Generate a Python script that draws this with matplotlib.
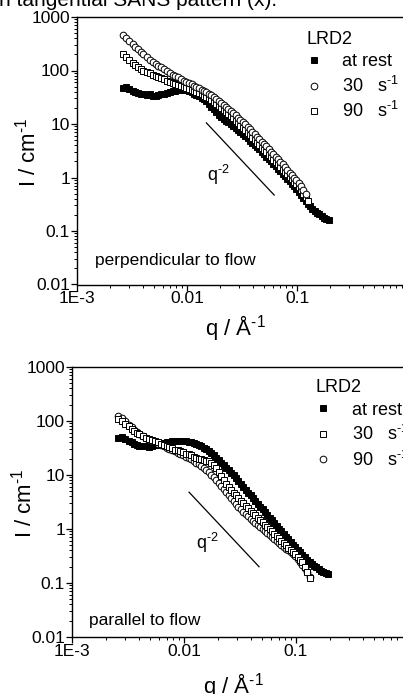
"""SANS intensity I(q) of LRD2 at rest and under shear,
perpendicular (top) and parallel (bottom) to flow."""

import matplotlib
matplotlib.use("Agg")
import matplotlib.pyplot as plt
from matplotlib.ticker import FixedLocator, FixedFormatter, LogLocator, NullFormatter

plt.rcParams['font.family'] = ['Liberation Sans', 'DejaVu Sans']
plt.rcParams['mathtext.fontset'] = 'custom'
plt.rcParams['mathtext.rm'] = 'Liberation Sans'
plt.rcParams['mathtext.it'] = 'Liberation Sans:italic'

# common q grid (1/A)
q = [0.0026, 0.0028, 0.0030, 0.0032, 0.0034, 0.0036, 0.0038, 0.0040,
     0.0043, 0.0046, 0.0049, 0.0052, 0.0055, 0.0058, 0.0062, 0.0066, 0.0070, 0.0074,
     0.0078, 0.0083, 0.0088, 0.0093, 0.0098, 0.0104, 0.0110, 0.0116, 0.0122, 0.0129,
     0.0136, 0.0143, 0.0150, 0.0158, 0.0166, 0.0175, 0.0184, 0.0194, 0.0204, 0.0215,
     0.0226, 0.0238, 0.0250, 0.0263, 0.0277, 0.0291, 0.0306, 0.0322, 0.0339, 0.0356,
     0.0374, 0.0393, 0.0413, 0.0434, 0.0456, 0.0479, 0.0503, 0.0528, 0.0554, 0.0582,
     0.0611, 0.0641, 0.0673, 0.0706, 0.0741, 0.0778, 0.0816, 0.0856, 0.0898, 0.0942,
     0.0988, 0.104, 0.109, 0.114, 0.120, 0.126, 0.132, 0.138, 0.145, 0.152,
     0.160, 0.168, 0.176, 0.185, 0.194]

# perpendicular to flow
perp_rest = [48, 50, 46, 42, 40, 38, 37, 36,
             35, 36, 34, 33, 35, 36, 37, 38, 40, 41,
             42, 43, 44, 44, 43, 41, 39, 37, 35, 33,
             31, 29, 27, 24, 21, 19, 17, 15, 13.5, 12.3,
             11.5, 10.7, 9.9, 9.1, 8.4, 7.8, 7.2, 6.6, 6.0, 5.4,
             4.9, 4.5, 4.1, 3.7, 3.35, 3.0, 2.7, 2.45, 2.2, 2.0,
             1.8, 1.62, 1.46, 1.32, 1.18, 1.06, 0.95, 0.85, 0.76, 0.68,
             0.61, 0.54, 0.47, 0.41, 0.36, 0.32, 0.29, 0.26, 0.24, 0.22,
             0.205, 0.19, 0.178, 0.168, 0.158]
perp_30 = [460, 400, 350, 310, 275, 250, 225, 205,
           180, 160, 145, 132, 122, 114, 105, 97, 90, 84,
           79, 74, 69, 65, 62, 58, 55, 52, 49, 47,
           44, 41, 39, 37, 35, 32, 29, 27, 25, 23,
           21, 19, 17.5, 16, 14.5, 13.2, 12, 10.8, 9.8, 8.8,
           8.0, 7.2, 6.5, 5.8, 5.2, 4.7, 4.2, 3.8, 3.4, 3.05,
           2.75, 2.45, 2.2, 1.95, 1.75, 1.55, 1.38, 1.24, 1.10, 0.98,
           0.88, 0.78, 0.68, 0.58, 0.50]
perp_90 = [205, 175, 155, 138, 125, 114, 106, 100,
           94, 88, 84, 80, 76, 72, 68, 65, 62, 59,
           57, 54, 52, 50, 48, 46, 44, 42, 40, 38,
           36, 34, 32, 30, 28, 26, 24, 22, 20, 18.5,
           17, 15.5, 14, 12.7, 11.5, 10.3, 9.3, 8.4, 7.6, 6.8,
           6.1, 5.5, 5.0, 4.5, 4.0, 3.6, 3.25, 2.95, 2.65, 2.4,
           2.15, 1.95, 1.75, 1.57, 1.41, 1.27, 1.14, 1.02, 0.92, 0.83,
           0.75, 0.67, 0.58, 0.50, 0.43, 0.37]

# parallel to flow
par_rest = [48, 50, 46, 43, 40, 37, 36, 35,
            34, 35, 33, 34, 36, 36, 37, 39, 40, 41,
            42, 42, 43, 43, 43, 42, 41, 40, 39, 37,
            36, 34, 32, 30, 28, 25.5, 23, 21, 19, 17,
            15.3, 13.7, 12.3, 11, 9.8, 8.7, 7.7, 6.8, 6.0, 5.3,
            4.7, 4.2, 3.7, 3.3, 2.9, 2.6, 2.3, 2.05, 1.82, 1.62,
            1.44, 1.28, 1.14, 1.02, 0.91, 0.81, 0.72, 0.64, 0.57, 0.51,
            0.46, 0.41, 0.37, 0.33, 0.30, 0.27, 0.245, 0.225, 0.21, 0.195,
            0.18, 0.17, 0.16, 0.152, 0.145]
par_30 = [108, 100, 88, 80, 72, 66, 61, 57,
          53, 49, 46, 44, 42, 40, 38, 36, 34, 32.5,
          31, 29.5, 28.5, 27.5, 26.5, 25, 24, 23, 22, 21,
          20, 19.5, 19, 18.5, 18, 17, 15.5, 13.5, 11.5, 9.5,
          8.0, 6.8, 6.0, 5.3, 4.7, 4.2, 3.7, 3.3, 3.0, 2.7,
          2.45, 2.2, 2.0, 1.8, 1.62, 1.46, 1.32, 1.2, 1.09, 0.99,
          0.90, 0.82, 0.74, 0.67, 0.61, 0.55, 0.50, 0.45, 0.41, 0.37,
          0.34, 0.30, 0.27, 0.24, 0.20, 0.16, 0.125]
par_90 = [124, 112, 98, 86, 76, 68, 62, 57,
          52, 48, 45, 42, 40, 38, 36, 34, 32, 30.5,
          29, 27.5, 26, 24.5, 23.5, 22, 21, 19.5, 18.5, 17,
          16, 14.5, 13.5, 12.5, 11.5, 10, 9, 8, 7, 6.2,
          5.5, 4.8, 4.2, 3.7, 3.3, 2.9, 2.6, 2.35, 2.1, 1.9,
          1.72, 1.56, 1.42, 1.29, 1.18, 1.08, 0.99, 0.90, 0.83, 0.76,
          0.70, 0.64, 0.59, 0.54, 0.50, 0.46, 0.43, 0.40, 0.37, 0.34,
          0.31, 0.28, 0.25, 0.22, 0.19, 0.16, 0.13]

# q^-2 guide lines (q, I at both ends)
perp_guide_q = [0.015, 0.062]
perp_guide_I = [10.5, 0.47]
par_guide_q = [0.0111, 0.0468]
par_guide_I = [4.8, 0.20]

y_ticks = [0.01, 0.1, 1, 10, 100, 1000]
y_labels = ['0.01', '0.1', '1', '10', '100', '1000']
x_ticks = [1e-3, 0.01, 0.1]
x_labels = ['1E-3', '0.01', '0.1']

sup = r'$^{\text{-1}}$'

fig = plt.figure(figsize=(4.03, 6.94), dpi=100)

ax1 = fig.add_axes([77 / 403, 1 - 284.5 / 694, 330 / 403, 267.5 / 694])
ax2 = fig.add_axes([72 / 403, 1 - 637 / 694, 336 / 403, 270 / 694])

ms = 4.8
mew = 0.7


def style_axis(ax):
    ax.set_xscale('log')
    ax.set_yscale('log')
    ax.set_xlim(1e-3, 1)
    ax.set_ylim(0.01, 1000)
    ax.yaxis.set_major_locator(FixedLocator(y_ticks))
    ax.yaxis.set_major_formatter(FixedFormatter(y_labels))
    ax.xaxis.set_major_locator(FixedLocator(x_ticks))
    ax.xaxis.set_major_formatter(FixedFormatter(x_labels))
    ax.yaxis.set_minor_locator(LogLocator(base=10, subs=range(2, 10)))
    ax.xaxis.set_minor_locator(LogLocator(base=10, subs=range(2, 10)))
    ax.yaxis.set_minor_formatter(NullFormatter())
    ax.xaxis.set_minor_formatter(NullFormatter())
    ax.tick_params(which='major', direction='out', length=4, width=0.9,
                   labelsize=12.5, pad=1)
    ax.tick_params(which='minor', direction='out', length=2, width=0.7)
    for s in ax.spines.values():
        s.set_linewidth(1.0)


def series(ax, vals, marker, filled, label):
    qq = q[:len(vals)]
    fc = 'black' if filled else 'white'
    h, = ax.plot(qq, vals, ls='none', marker=marker, ms=ms, mfc=fc,
                 mec='black', mew=mew, label=label)
    return h


# top panel: perpendicular to flow
style_axis(ax1)
h1 = series(ax1, perp_rest, 's', True, 'at rest')
h3 = series(ax1, perp_90, 's', False, '90   s' + sup)
h2 = series(ax1, perp_30, 'o', False, '30   s' + sup)
ax1.plot(perp_guide_q, perp_guide_I, color='black', lw=0.9)
ax1.text(0.0192, 1.1, 'q' + r'$^{\text{-2}}$', fontsize=13,
         ha='center', va='center')
ax1.text(0.00146, 0.0275, 'perpendicular to flow', fontsize=12.5,
         va='center', ha='left')
ax1.legend(handles=[h1, h2, h3], title='LRD2', alignment='left',
           loc='upper left', bbox_to_anchor=(0.695, 0.948), frameon=False,
           fontsize=13, title_fontsize=13, handlelength=0.8,
           handletextpad=1.2, labelspacing=0.3, borderpad=0,
           borderaxespad=0)

# bottom panel: parallel to flow
style_axis(ax2)
g1 = series(ax2, par_rest, 's', True, 'at rest')
g3 = series(ax2, par_90, 'o', False, '90   s' + sup)
g2 = series(ax2, par_30, 's', False, '30   s' + sup)
ax2.plot(par_guide_q, par_guide_I, color='black', lw=0.9)
ax2.text(0.0162, 0.55, 'q' + r'$^{\text{-2}}$', fontsize=13,
         ha='center', va='center')
ax2.text(0.00142, 0.02, 'parallel to flow', fontsize=12.5,
         va='center', ha='left')
ax2.legend(handles=[g1, g2, g3], title='LRD2', alignment='left',
           loc='upper left', bbox_to_anchor=(0.725, 0.955), frameon=False,
           fontsize=13, title_fontsize=13, handlelength=0.8,
           handletextpad=1.2, labelspacing=0.3, borderpad=0,
           borderaxespad=0)

# axis titles
fig.text(28 / 403, 1 - 152 / 694, 'I / cm' + sup, rotation=90,
         fontsize=16, ha='center', va='center')
fig.text(24 / 403, 1 - 503 / 694, 'I / cm' + sup, rotation=90,
         fontsize=16, ha='center', va='center')
fig.text(235 / 403, 1 - 328 / 694, 'q / Å' + sup, fontsize=16,
         ha='center', va='center')
fig.text(233 / 403, 1 - 686 / 694, 'q / Å' + sup, fontsize=16,
         ha='center', va='center')

# clipped caption line from the page above
fig.text(-0.003, 1 - 6 / 694, 'n tangential SANS pattern (x).', fontsize=15,
         ha='left', va='baseline')

fig.savefig('out.png', dpi=100)
